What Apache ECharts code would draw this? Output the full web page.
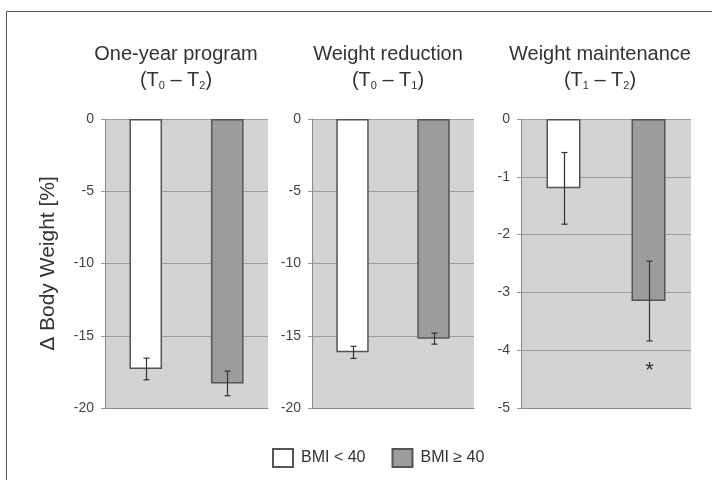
<!DOCTYPE html>
<html>
<head>
<meta charset="utf-8">
<script src="https://cdn.jsdelivr.net/npm/echarts@6/dist/echarts.min.js"></script>
<style>
  html, body { margin: 0; padding: 0; background: #ffffff; }
  #chart { width: 712px; height: 480px; }
</style>
</head>
<body>
<div id="chart"></div>
<script>
// Change in body weight (%) by BMI group for three study periods
const groups = ['BMI < 40', 'BMI \u2265 40'];
const panelTitles = ['One-year program', 'Weight reduction', 'Weight maintenance'];
const panelPeriods = [['0', '2'], ['0', '1'], ['1', '2']];

const meanBelow40 = [-17.3, -16.15, -1.2];
const meanAbove40 = [-18.3, -15.2, -3.15];
const errBelow40 = [0.75, 0.42, 0.62];
const errAbove40 = [0.85, 0.38, 0.69];
// 1 = significant difference between groups (marked with an asterisk)
const sigBelow40 = [0, 0, 0];
const sigAbove40 = [0, 0, 1];

const axisMin = [-20, -20, -5];
const axisStep = [5, 5, 1];

const FONT = '"Liberation Sans", Arial, Helvetica, sans-serif';

// plot-area layout of the three panels
const panelBoxes = [
  { left: 105, width: 163 },
  { left: 312, width: 162 },
  { left: 521, width: 170 }
];
const titleCenters = [176, 388, 600];

const chart = echarts.init(document.getElementById('chart'), null, { renderer: 'canvas' });

const grid = [], xAxis = [], yAxis = [], series = [], title = [];

panelBoxes.forEach((box, i) => {
  grid.push({
    left: box.left, width: box.width, top: 119, height: 289,
    show: true, backgroundColor: '#d3d3d3', borderWidth: 0
  });

  xAxis.push({
    type: 'category', gridIndex: i, data: groups,
    axisLine: { onZero: false, lineStyle: { color: '#8a8a8a', width: 1 } },
    axisTick: { show: false }, axisLabel: { show: false }, splitLine: { show: false }
  });

  const y = {
    type: 'value', gridIndex: i, min: axisMin[i], max: 0, interval: axisStep[i],
    axisLine: { show: true, lineStyle: { color: '#8a8a8a', width: 1 } },
    axisTick: { show: true, length: 4, lineStyle: { color: '#9a9a9a' } },
    axisLabel: { color: '#444', fontSize: 14, margin: 11, fontFamily: FONT },
    splitLine: { show: true, lineStyle: { color: '#9d9d9d', width: 1 } }
  };
  if (i === 0) {
    Object.assign(y, {
      name: '\u0394 Body Weight [%]', nameLocation: 'middle', nameGap: 46, nameRotate: 90,
      nameTextStyle: { color: '#333', fontSize: 21, fontFamily: FONT }
    });
  }
  yAxis.push(y);

  title.push({
    text: '{m|' + panelTitles[i] + '}\n{m|(T}{s|' + panelPeriods[i][0] + '}{m| \u2013 T}{s|' + panelPeriods[i][1] + '}{m|)}',
    left: titleCenters[i], top: 41, textAlign: 'center', padding: 0,
    textStyle: {
      fontWeight: 'normal',
      rich: {
        m: { fontSize: 20, lineHeight: 26, color: '#333', fontFamily: FONT, fontWeight: 'normal' },
        s: { fontSize: 11, lineHeight: 26, color: '#333', fontFamily: FONT, fontWeight: 'normal',
             verticalAlign: 'bottom', padding: [0, 0, 2, 0] }
      }
    }
  });

  series.push({
    name: groups[0], type: 'bar', xAxisIndex: i, yAxisIndex: i,
    data: [meanBelow40[i], '-'], barWidth: '40%', barGap: '-100%',
    itemStyle: { color: '#ffffff', borderColor: '#555', borderWidth: 1.5 },
    emphasis: { disabled: true }
  });
  series.push({
    name: groups[1], type: 'bar', xAxisIndex: i, yAxisIndex: i,
    data: ['-', meanAbove40[i]], barWidth: '40%', barGap: '-100%',
    itemStyle: { color: '#9c9c9c', borderColor: '#555', borderWidth: 1.5 },
    emphasis: { disabled: true }
  });
  series.push({
    name: 'error', type: 'custom', xAxisIndex: i, yAxisIndex: i, z: 5,
    data: [
      [0, meanBelow40[i], errBelow40[i], sigBelow40[i]],
      [1, meanAbove40[i], errAbove40[i], sigAbove40[i]]
    ],
    renderItem: (params, api) => {
      const x = api.value(0), m = api.value(1), e = api.value(2), sig = api.value(3);
      const hi = api.coord([x, m + e]);
      const lo = api.coord([x, m - e]);
      const cx = Math.round(hi[0]) + 0.5;
      const hw = 3;
      const st = { stroke: '#333', lineWidth: 1.2 };
      const children = [
        { type: 'line', shape: { x1: cx, y1: hi[1], x2: cx, y2: lo[1] }, style: st },
        { type: 'line', shape: { x1: cx - hw, y1: hi[1], x2: cx + hw, y2: hi[1] }, style: st },
        { type: 'line', shape: { x1: cx - hw, y1: lo[1], x2: cx + hw, y2: lo[1] }, style: st }
      ];
      if (sig) {
        children.push({
          type: 'text',
          style: { text: '*', x: cx, y: lo[1] + 30, align: 'center', verticalAlign: 'middle',
                   fontSize: 22, fill: '#333', fontFamily: FONT }
        });
      }
      return { type: 'group', children };
    }
  });
});

chart.setOption({
  backgroundColor: '#ffffff',
  animation: false,
  title,
  grid, xAxis, yAxis, series,
  legend: {
    data: groups, left: 272, top: 448, padding: 0,
    icon: 'rect', itemWidth: 20, itemHeight: 18, itemGap: 26,
    textStyle: { color: '#333', fontSize: 16, fontFamily: FONT, padding: [4, 0, 0, 3] },
    selectedMode: false
  },
  graphic: [
    { type: 'line', shape: { x1: 6.5, y1: 11.5, x2: 712, y2: 11.5 }, style: { stroke: '#555', lineWidth: 1 } },
    { type: 'line', shape: { x1: 6.5, y1: 11.5, x2: 6.5, y2: 480 }, style: { stroke: '#555', lineWidth: 1 } }
  ]
});
</script>
</body>
</html>
